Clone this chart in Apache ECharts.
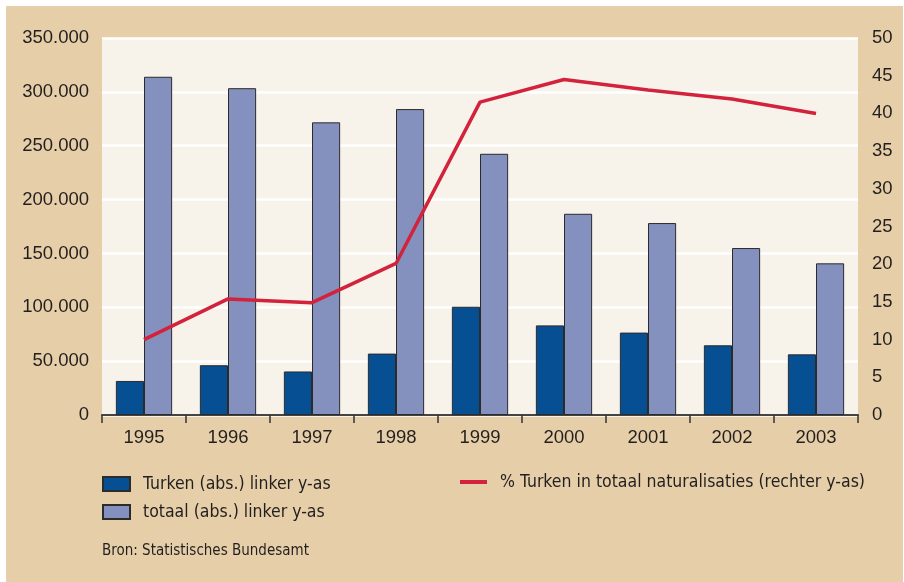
<!DOCTYPE html>
<html>
<head>
<meta charset="utf-8">
<script src="https://cdn.jsdelivr.net/npm/echarts@6/dist/echarts.min.js"></script>
<style>
  html, body { margin: 0; padding: 0; background: #fff; }
  #wrap { position: relative; width: 904px; height: 582px; background: #fff; }
  #main { position: absolute; left: 6px; top: 6px; width: 897px; height: 576px; background: #e6cfa8; }
</style>
</head>
<body>
<div id="wrap"><div id="main"></div></div>
<script>
// jaren
const years = ['1995', '1996', '1997', '1998', '1999', '2000', '2001', '2002', '2003']
// Turken (abs.) linker y-as
const turken = [31600, 46200, 40400, 57000, 100500, 83200, 76500, 64700, 56300]
// totaal (abs.) linker y-as
const totaal = [314000, 303400, 271700, 284000, 242500, 186800, 178200, 155000, 140800]
// % Turken in totaal naturalisaties (rechter y-as)
const pctTurken = [10.0, 15.4, 14.9, 20.1, 41.5, 44.5, 43.1, 41.9, 40.0]

// 350000 -> "350.000"
function fmtThousands(v) {
  return String(v).replace(/\B(?=(\d{3})+(?!\d))/g, '.')
}

const myChart = echarts.init(document.querySelector('#main'))

const axisFont = { fontFamily: 'Liberation Sans, Arial, sans-serif', fontSize: 18.5, color: '#231f20' }
const legendFont = {
  fontFamily: 'Liberation Sans Narrow, DejaVu Sans Condensed, sans-serif',
  fontSize: 17.5,
  color: '#231f20',
  padding: [0, 0, 0, 8]
}

const option = {
  animation: false,
  backgroundColor: 'transparent',
  grid: {
    left: 96,
    top: 32,
    width: 756,
    height: 377,
    show: true,
    backgroundColor: '#f7f2ea',
    borderWidth: 0
  },
  legend: [
    {
      orient: 'vertical',
      left: 96,
      top: 469,
      padding: 0,
      itemWidth: 27,
      itemHeight: 14,
      itemGap: 10,
      icon: 'rect',
      textStyle: legendFont,
      data: ['Turken (abs.) linker y-as', 'totaal (abs.) linker y-as']
    },
    {
      left: 454,
      top: 467,
      padding: 0,
      itemWidth: 27,
      itemHeight: 4,
      icon: 'rect',
      textStyle: legendFont,
      data: ['% Turken in totaal naturalisaties (rechter y-as)']
    }
  ],
  graphic: [
    {
      type: 'text',
      left: 96,
      top: 538,
      style: {
        text: 'Bron: Statistisches Bundesamt',
        font: '15px "Liberation Sans Narrow", "DejaVu Sans Condensed", sans-serif',
        fill: '#231f20'
      }
    }
  ],
  xAxis: [
    {
      type: 'category',
      data: years,
      axisLine: { lineStyle: { color: '#333', width: 1.5 } },
      axisTick: { show: true, length: 8, lineStyle: { color: '#333', width: 1.5 } },
      axisLabel: Object.assign({ margin: 13 }, axisFont)
    },
    {
      // bovenrand van het plotvlak
      type: 'category',
      position: 'top',
      data: years,
      axisLine: { show: true, lineStyle: { color: '#3a3a3a', width: 1.5 } },
      axisTick: { show: false },
      axisLabel: { show: false }
    }
  ],
  yAxis: [
    {
      type: 'value',
      min: 0,
      max: 350000,
      interval: 50000,
      axisLine: { show: false },
      axisTick: { show: false },
      axisLabel: Object.assign({ margin: 13, formatter: fmtThousands }, axisFont),
      splitLine: { lineStyle: { color: '#ffffff', width: 2.5 } }
    },
    {
      type: 'value',
      min: 0,
      max: 50,
      interval: 5,
      position: 'right',
      axisLine: { show: false },
      axisTick: { show: false },
      axisLabel: Object.assign({ margin: 14 }, axisFont),
      splitLine: { show: false }
    }
  ],
  series: [
    {
      name: 'Turken (abs.) linker y-as',
      type: 'bar',
      data: turken,
      barGap: '0%',
      barCategoryGap: '33%',
      itemStyle: { color: '#064f93', borderColor: '#2b2b2b', borderWidth: 1 }
    },
    {
      name: 'totaal (abs.) linker y-as',
      type: 'bar',
      data: totaal,
      itemStyle: { color: '#8490bd', borderColor: '#2b2b2b', borderWidth: 1 }
    },
    {
      name: '% Turken in totaal naturalisaties (rechter y-as)',
      type: 'line',
      yAxisIndex: 1,
      data: pctTurken,
      symbol: 'none',
      itemStyle: { color: '#d3223b' },
      lineStyle: { color: '#d3223b', width: 3.5 }
    }
  ]
}

myChart.setOption(option)
</script>
</body>
</html>
